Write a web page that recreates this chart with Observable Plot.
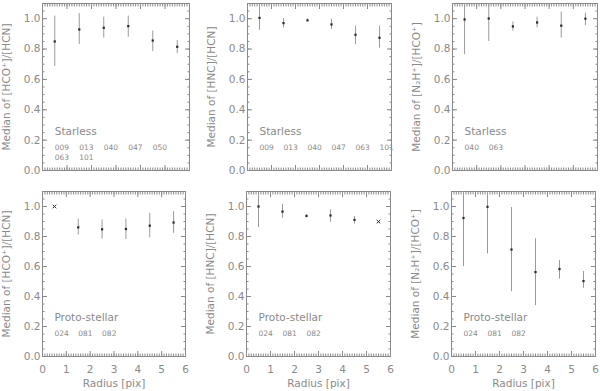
<!DOCTYPE html>
<html>
<head>
<meta charset="utf-8">
<script src="https://cdn.jsdelivr.net/npm/d3@7"></script>
<script src="https://cdn.jsdelivr.net/npm/@observablehq/plot@0.6"></script>
<style>
  html, body { margin: 0; padding: 0; background: #fff; }
  #root { position: relative; width: 600px; height: 391px; overflow: hidden; background: #fff; }
  #root > div { position: absolute; }
</style>
</head>
<body>
<div id="root"></div>
<script>
// ---------- data ----------
const radius = [0.5, 1.5, 2.5, 3.5, 4.5, 5.5];
const xTickLabels = [0, 1, 2, 3, 4, 5, 6];
const yTickLabels = [0.0, 0.2, 0.4, 0.6, 0.8, 1.0];

// Starless: [HCO+]/[HCN]
const hcoHcnStarless    = [0.850, 0.929, 0.940, 0.951, 0.856, 0.815];
const hcoHcnStarlessLo  = [0.685, 0.830, 0.872, 0.878, 0.784, 0.770];
const hcoHcnStarlessHi  = [1.017, 1.033, 1.010, 1.017, 0.918, 0.856];
// Starless: [HNC]/[HCN]
const hncHcnStarless    = [1.005, 0.971, 0.989, 0.962, 0.894, 0.874];
const hncHcnStarlessLo  = [0.923, 0.940, 0.980, 0.930, 0.828, 0.806];
const hncHcnStarlessHi  = [1.077, 1.000, 0.998, 0.997, 0.951, 0.951];
// Starless: [N2H+]/[HCO+]
const n2hHcoStarless    = [0.995, 1.001, 0.949, 0.975, 0.954, 1.000];
const n2hHcoStarlessLo  = [0.763, 0.850, 0.918, 0.940, 0.872, 0.955];
const n2hHcoStarlessHi  = [1.100, 1.100, 0.978, 1.010, 1.043, 1.036];
// Proto-stellar: [HCO+]/[HCN]
const hcoHcnProto       = [1.000, 0.861, 0.848, 0.850, 0.872, 0.893];
const hcoHcnProtoLo     = [null,  0.810, 0.783, 0.780, 0.792, 0.821];
const hcoHcnProtoHi     = [null,  0.915, 0.910, 0.917, 0.955, 0.966];
// Proto-stellar: [HNC]/[HCN]
const hncHcnProto       = [1.000, 0.966, 0.937, 0.940, 0.911, 0.899];
const hncHcnProtoLo     = [0.859, 0.921, 0.925, 0.895, 0.883, null];
const hncHcnProtoHi     = [1.080, 1.015, 0.945, 0.978, 0.933, null];
// Proto-stellar: [N2H+]/[HCO+]
const n2hHcoProto       = [0.923, 0.998, 0.713, 0.563, 0.583, 0.503];
const n2hHcoProtoLo     = [0.600, 0.684, 0.432, 0.339, 0.516, 0.455];
const n2hHcoProtoHi     = [1.100, 1.100, 0.993, 0.785, 0.641, 0.566];

const starlessIdsA = ["009", "013", "040", "047", "050", "063", "101"];
const starlessIdsB = ["009", "013", "040", "047", "063", "101"];
const starlessIdsC = ["040", "063"];
const protoIds     = ["024", "081", "082"];

const labelHcoHcn = "Median of [HCO⁺]/[HCN]";
const labelHncHcn = "Median of [HNC]/[HCN]";
const labelN2hHco = "Median of [N₂H⁺]/[HCO⁺]";
const classStarless = "Starless";
const classProto = "Proto-stellar";
const xLabel = "Radius [pix]";

// ---------- drawing ----------
const FONT = "DejaVu Sans";
const AXIS = "#8a8a8a";
const TEXT = "#8a8a8a";
const BAR  = "#9a9a9a";
const DOT  = "#2a2a2a";

const yMinor = d3.range(0, 1.1001, 0.05);
const xMinor = d3.range(0, 6.0001, 0.1);

function panel(cfg) {
  const pts = radius.map((r, i) => ({x: r, y: cfg.v[i], lo: cfg.lo[i], hi: cfg.hi[i]}));
  const bars = pts.filter(d => d.lo != null);
  const ids = cfg.ids.map((id, i) => ({
    id,
    x: 0.5 + (i % cfg.perRow),
    row: Math.floor(i / cfg.perRow)
  }));
  const marks = [
    Plot.frame({stroke: AXIS, strokeWidth: 1}),
    // minor + major ticks on all four sides, pointing inward
    Plot.axisY({ticks: yMinor, anchor: "left", tickSize: -2.5, text: null, stroke: AXIS, label: null}),
    Plot.axisY({ticks: yMinor, anchor: "right", tickSize: -2.5, text: null, stroke: AXIS, label: null}),
    Plot.axisY({ticks: yTickLabels, anchor: "right", tickSize: -5, text: null, stroke: AXIS, label: null}),
    Plot.axisX({ticks: xMinor, anchor: "bottom", tickSize: -2.5, text: null, stroke: AXIS, label: null}),
    Plot.axisX({ticks: xMinor, anchor: "top", tickSize: -2.5, text: null, stroke: AXIS, label: null}),
    Plot.axisX({ticks: xTickLabels, anchor: "bottom", tickSize: -5, text: null, stroke: AXIS, label: null}),
    Plot.axisX({ticks: xTickLabels, anchor: "top", tickSize: -5, text: null, stroke: AXIS, label: null}),
    Plot.axisY({
      ticks: yTickLabels, anchor: "left", tickSize: -5, tickPadding: 7, stroke: AXIS,
      tickFormat: d3.format(".1f"), fontSize: 10.5, fill: TEXT,
      label: cfg.ylabel, labelAnchor: "center", labelArrow: "none", labelOffset: 40
    }),
    Plot.ruleX(bars, {x: "x", y1: "lo", y2: "hi", stroke: BAR, strokeWidth: 1, clip: true}),
    Plot.dot(pts.filter(d => d.lo != null), {x: "x", y: "y", symbol: "square",
                   r: 1.25, fill: DOT, stroke: "none"}),
    Plot.dot(pts.filter(d => d.lo == null), {x: "x", y: "y", symbol: "times",
                   r: 1.8, stroke: DOT, strokeWidth: 1}),
    Plot.text([cfg.cls], {x: 0.5, y: 0.258, text: d => d, textAnchor: "start",
                          fontSize: 10.5, fill: TEXT}),
    Plot.text(ids, {x: "x", y: d => d.row === 0 ? 0.153 : 0.087, text: "id",
                    textAnchor: "start", fontSize: 7.5, fill: TEXT})
  ];
  if (cfg.bottom) {
    marks.push(Plot.axisX({
      ticks: xTickLabels, anchor: "bottom", tickSize: 0, tickPadding: 9,
      fontSize: 10.5, fill: TEXT, tickFormat: d3.format("d"),
      label: xLabel, labelAnchor: "center", labelArrow: "none", labelOffset: 30
    }));
  }
  const svg = Plot.plot({
    width: cfg.width, height: cfg.height,
    marginLeft: cfg.ml, marginRight: 3, marginTop: cfg.mt, marginBottom: cfg.mb,
    x: {domain: [0, 6]},
    y: {domain: [0, 1.1]},
    style: {fontFamily: FONT, color: TEXT, background: "white", overflow: "visible"},
    marks
  });
  const wrap = document.createElement("div");
  wrap.style.left = cfg.left + "px";
  wrap.style.top = cfg.top + "px";
  wrap.appendChild(svg);
  document.getElementById("root").appendChild(wrap);
}

// top row: frame y 3..170 ; bottom row: frame y 191..356
const topRow = {top: 0, height: 180, mt: 3, mb: 10, bottom: false, cls: classStarless};
const botRow = {top: 181, height: 210, mt: 10, mb: 35, bottom: true, cls: classProto};

panel({...topRow, left: 0,   ml: 42, width: 42 + 147 + 3, v: hcoHcnStarless, lo: hcoHcnStarlessLo, hi: hcoHcnStarlessHi, ylabel: labelHcoHcn, ids: starlessIdsA, perRow: 5});
panel({...topRow, left: 202, ml: 45, width: 45 + 144 + 3, v: hncHcnStarless, lo: hncHcnStarlessLo, hi: hncHcnStarlessHi, ylabel: labelHncHcn, ids: starlessIdsB, perRow: 6});
panel({...topRow, left: 407, ml: 45, width: 45 + 145 + 3, v: n2hHcoStarless, lo: n2hHcoStarlessLo, hi: n2hHcoStarlessHi, ylabel: labelN2hHco, ids: starlessIdsC, perRow: 6});
panel({...botRow, left: 0,   ml: 42, width: 42 + 143 + 3, v: hcoHcnProto, lo: hcoHcnProtoLo, hi: hcoHcnProtoHi, ylabel: labelHcoHcn, ids: protoIds, perRow: 6});
panel({...botRow, left: 201, ml: 45, width: 45 + 144 + 3, v: hncHcnProto, lo: hncHcnProtoLo, hi: hncHcnProtoHi, ylabel: labelHncHcn, ids: protoIds, perRow: 6});
panel({...botRow, left: 406, ml: 45, width: 45 + 144 + 3, v: n2hHcoProto, lo: n2hHcoProtoLo, hi: n2hHcoProtoHi, ylabel: labelN2hHco, ids: protoIds, perRow: 6});
</script>
</body>
</html>
